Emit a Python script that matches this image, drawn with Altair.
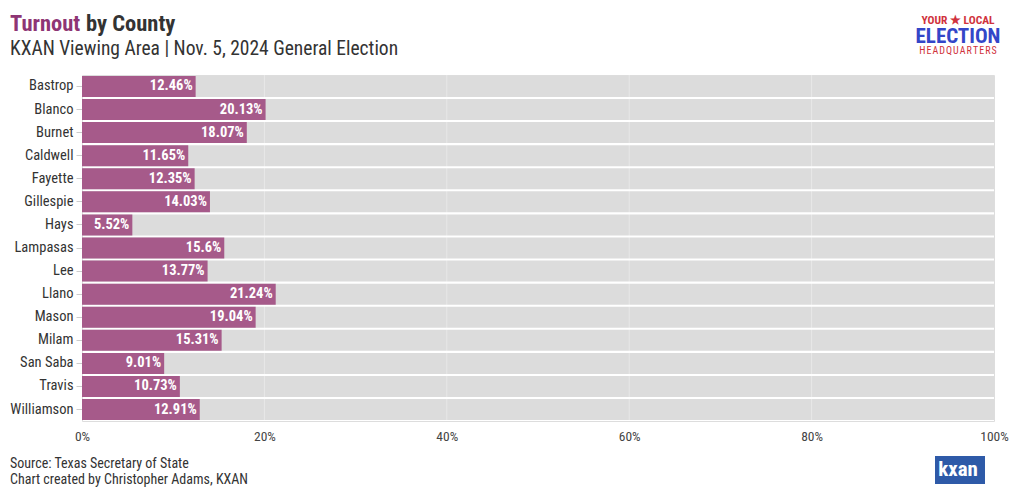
import altair as alt
import pandas as pd

counties = ["Bastrop", "Blanco", "Burnet", "Caldwell", "Fayette", "Gillespie", "Hays",
            "Lampasas", "Lee", "Llano", "Mason", "Milam", "San Saba", "Travis", "Williamson"]
turnout = [12.46, 20.13, 18.07, 11.65, 12.35, 14.03, 5.52,
           15.6, 13.77, 21.24, 19.04, 15.31, 9.01, 10.73, 12.91]
labels = ["12.46%", "20.13%", "18.07%", "11.65%", "12.35%", "14.03%", "5.52%",
          "15.6%", "13.77%", "21.24%", "19.04%", "15.31%", "9.01%", "10.73%", "12.91%"]
grid_ticks = [20, 40, 60, 80]

FONT = "Roboto Condensed, Liberation Sans Narrow, Roboto, sans-serif"
PURPLE = "#a65a8a"

df = pd.DataFrame({"county": counties, "pct": turnout, "label": labels, "full": [100] * len(counties)})
grid_df = pd.DataFrame({"g": grid_ticks})

W, H = 912, 346

y_enc = alt.Y("county:N", sort=counties, title=None,
              scale=alt.Scale(paddingInner=0.09, paddingOuter=0.04),
              axis=alt.Axis(labelFont=FONT, labelFontSize=14.5, labelColor="#333",
                            tickColor="#ccc", tickSize=6, domain=False, labelPadding=3))
x_scale = alt.Scale(domain=[0, 100], nice=False)

bg = alt.Chart(df).mark_bar(color="#dcdcdc").encode(
    y=y_enc,
    x=alt.X("full:Q", scale=x_scale, title=None,
            axis=alt.Axis(values=[0, 20, 40, 60, 80, 100], labelExpr="datum.value + '%'",
                          labelFont=FONT, labelFontSize=13.5, labelColor="#444", labelFlush=False,
                          grid=False, ticks=False, domain=False, labelPadding=8)),
)

grid = alt.Chart(grid_df).mark_rule(color="white", opacity=0.35).encode(
    x=alt.X("g:Q", scale=x_scale)
)

bars = alt.Chart(df).mark_bar(color=PURPLE).encode(
    y=alt.Y("county:N", sort=counties),
    x=alt.X("pct:Q", scale=x_scale),
)

txt = alt.Chart(df).mark_text(align="right", baseline="middle", dx=-3, color="white",
                              font=FONT, fontSize=14.5, fontWeight="bold").encode(
    y=alt.Y("county:N", sort=counties),
    x=alt.X("pct:Q", scale=x_scale),
    text="label:N",
)

def deco(text, x, y, size, color, weight="normal", align="left", baseline="alphabetic"):
    return alt.Chart(pd.DataFrame({"t": [text]})).mark_text(
        align=align, baseline=baseline, font=FONT, fontSize=size, color=color, fontWeight=weight
    ).encode(x=alt.value(x), y=alt.value(y), text="t:N")

t1 = deco("Turnout", -72, -44, 22.5, "#8e3574", "bold")
t2 = deco("by County", 4, -44, 22.5, "#333333", "bold")
sub = deco("KXAN Viewing Area | Nov. 5, 2024 General Election", -72, -20, 19.5, "#333333")
src1 = deco("Source: Texas Secretary of State", -72, 393, 14, "#333333")
src2 = deco("Chart created by Christopher Adams, KXAN", -72, 409, 14, "#333333")

logo1 = deco("YOUR ★ LOCAL", 876, -51, 11.5, "#d0323c", "bold", align="center")
logo2 = deco("ELECTION", 876, -32, 21, "#3346c8", "bold", align="center")
logo3 = deco("\u200a".join("HEADQUARTERS"), 876, -21, 10, "#d0323c", "normal", align="center")

kbox = alt.Chart(pd.DataFrame({"a": [0]})).mark_rect(color="#2e5aa8").encode(
    x=alt.value(853), x2=alt.value(903), y=alt.value(381), y2=alt.value(409)
)
ktext = deco("kxan", 876, 401, 21, "white", "bold", align="center")

chart = alt.layer(bg, grid, bars, txt, t1, t2, sub, src1, src2, logo1, logo2, logo3, kbox, ktext).properties(
    width=W, height=H,
    autosize=alt.AutoSizeParams(type="none"),
    padding={"left": 74, "top": 67, "right": 18, "bottom": 69},
).configure_view(stroke=None).configure(background="white")

chart.save("out.html", embed_options={"renderer": "svg", "actions": False})
